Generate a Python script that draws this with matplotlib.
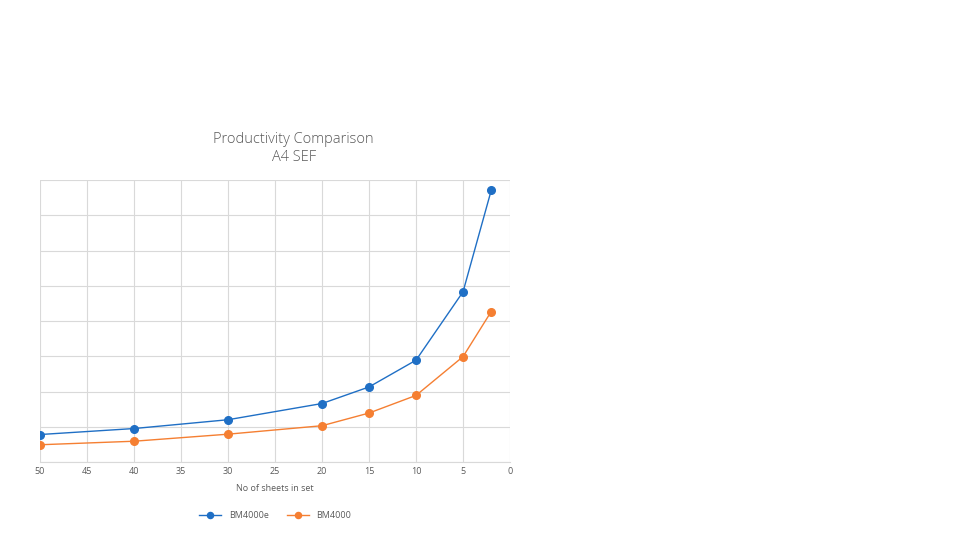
import matplotlib
matplotlib.use("Agg")
from matplotlib import pyplot as plt

SHEETS = [50, 40, 30, 20, 15, 10, 5, 2]
BM4000E = [0.78, 0.95, 1.20, 1.66, 2.13, 2.89, 4.83, 7.71]
BM4000 = [0.49, 0.59, 0.79, 1.03, 1.39, 1.89, 2.99, 4.27]
X_TICKS = [50, 45, 40, 35, 30, 25, 20, 15, 10, 5, 0]

BLUE = "#1f6fc5"
ORANGE = "#f57f32"
GRID = "#d9d9d9"
TEXT = "#595959"

plt.rcParams["font.family"] = "Open Sans"

fig = plt.figure(figsize=(9.6, 5.4), dpi=100)
ax = fig.add_axes([0.0417, 0.1444, 0.4896, 0.5222])

ax.plot(SHEETS, BM4000E, color=BLUE, marker="o", markersize=5.5, linewidth=1.0, label="BM4000e")
ax.plot(SHEETS, BM4000, color=ORANGE, marker="o", markersize=5.5, linewidth=1.0, label="BM4000")

ax.set_xlim(50, 0)
ax.set_ylim(0, 8)
ax.set_xticks(X_TICKS)
ax.set_yticks(range(0, 9))
ax.set_yticklabels([])
ax.tick_params(axis="both", length=0, labelsize=6.5, colors=TEXT)
ax.grid(True, color=GRID, linewidth=0.8)
for side in ["top", "right", "left"]:
    ax.spines[side].set_visible(False)
ax.spines["bottom"].set_color(GRID)
ax.set_xlabel("No of sheets in set", fontsize=6.5, color=TEXT, labelpad=6)

fig.text(0.306, 0.725, "Productivity Comparison\nA4 SEF", ha="center", va="center",
         fontsize=10.5, color=TEXT, linespacing=1.3, fontweight="light")

ax.legend(loc="upper center", bbox_to_anchor=(0.5, -0.145), ncol=2, frameon=False,
          fontsize=6.5, labelcolor=TEXT, handlelength=2.5, markerscale=0.8)

fig.savefig("out.png", dpi=100)
